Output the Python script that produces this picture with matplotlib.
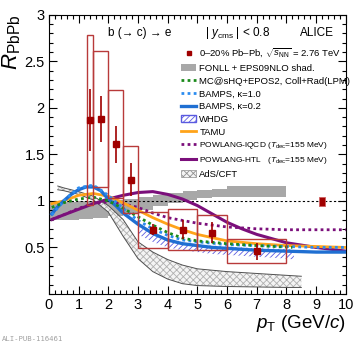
import numpy as np
import matplotlib
matplotlib.use('Agg')
import matplotlib.pyplot as plt
import matplotlib.ticker as mticker
from matplotlib.patches import Rectangle, Patch
from matplotlib.lines import Line2D

plt.rcParams['font.family'] = ['Liberation Sans', 'DejaVu Sans']
plt.rcParams['mathtext.fontset'] = 'custom'
plt.rcParams['mathtext.rm'] = 'Liberation Sans'
plt.rcParams['mathtext.it'] = 'Liberation Sans:italic'
plt.rcParams['hatch.linewidth'] = 0.6

# ── data ──
pt = [1.4, 1.75, 2.25, 2.75, 3.5, 4.5, 5.5, 7.0]
pt_lo = [1.3, 1.5, 2.0, 2.5, 3.0, 4.0, 5.0, 6.0]
pt_hi = [1.5, 2.0, 2.5, 3.0, 4.0, 5.0, 6.0, 8.0]
raa = [1.87, 1.88, 1.61, 1.23, 0.69, 0.69, 0.66, 0.46]
stat = [0.33, 0.25, 0.20, 0.18, 0.06, 0.10, 0.11, 0.09]
syst = [0.91, 0.73, 0.58, 0.36, 0.195, 0.22, 0.19, 0.13]
norm_x, norm_lo, norm_hi = 9.2, 0.945, 1.045

fonll_x = [0, 0.5, 1, 1.5, 2, 2.5, 3, 3.5, 4, 4.5, 5, 5.5, 6, 7, 8]
fonll_lo = [0.80, 0.80, 0.81, 0.82, 0.84, 0.87, 0.90, 0.94, 0.98, 1.01, 1.03, 1.04, 1.04, 1.04, 1.04]
fonll_hi = [0.99, 0.99, 1.00, 1.00, 1.01, 1.02, 1.04, 1.06, 1.09, 1.11, 1.12, 1.13, 1.16, 1.16, 1.16]

mcshq_x = [0.1, 0.5, 1, 1.5, 2, 2.5, 3, 3.5, 4, 4.5, 5, 6, 7, 8.2]
mcshq_y = [0.93, 0.98, 1.02, 1.04, 1.0, 0.92, 0.83, 0.74, 0.66, 0.60, 0.57, 0.54, 0.52, 0.50]

bamps1_x = [0.1, 0.5, 1, 1.5, 2, 2.5, 3, 3.5, 4, 4.5, 5, 6, 7, 8, 9, 10]
bamps1_y = [0.85, 1.0, 1.14, 1.17, 1.06, 0.92, 0.79, 0.70, 0.63, 0.58, 0.56, 0.53, 0.52, 0.51, 0.50, 0.50]

bamps02_x = [0.1, 0.25, 0.5, 0.75, 1, 1.25, 1.5, 1.75, 2, 2.25, 2.5, 3, 3.5, 4, 4.5, 5, 5.5, 6, 7, 8, 9, 10]
bamps02_y = [0.86, 0.92, 1.0, 1.07, 1.12, 1.15, 1.15, 1.11, 1.02, 0.95, 0.87, 0.75, 0.65, 0.58, 0.54, 0.52, 0.50, 0.49, 0.47, 0.46, 0.45, 0.45]

whdg_x = [3, 3.5, 4, 4.5, 5, 5.5, 6, 6.5, 7, 7.5, 8, 8.25]
whdg_hi = [0.72, 0.64, 0.58, 0.55, 0.53, 0.52, 0.51, 0.50, 0.49, 0.49, 0.48, 0.48]
whdg_lo = [0.64, 0.56, 0.50, 0.47, 0.45, 0.43, 0.42, 0.41, 0.40, 0.39, 0.38, 0.37]

tamu_x = [0.1, 0.5, 1, 1.5, 2, 2.5, 3, 3.5, 4, 4.5, 5, 6, 7, 8, 9, 10]
tamu_y = [0.97, 1.0, 1.06, 1.08, 1.05, 0.98, 0.90, 0.82, 0.75, 0.69, 0.64, 0.57, 0.54, 0.52, 0.51, 0.50]

lqcd_x = [0.1, 0.5, 1, 1.5, 2, 2.5, 3, 3.5, 4, 4.5, 5, 6, 7, 8, 9, 10]
lqcd_y = [0.80, 0.85, 0.92, 0.97, 0.99, 0.97, 0.93, 0.87, 0.82, 0.79, 0.76, 0.72, 0.70, 0.69, 0.69, 0.69]

htl_x = [0.1, 0.5, 1, 1.5, 2, 2.5, 3, 3.5, 4, 4.5, 5, 5.5, 6, 6.5, 7, 8, 9, 10]
htl_y = [0.80, 0.85, 0.91, 0.97, 1.02, 1.06, 1.09, 1.10, 1.07, 1.02, 0.95, 0.86, 0.77, 0.70, 0.64, 0.55, 0.50, 0.46]

ads_x = [0.3, 0.5, 1, 1.5, 2, 2.5, 3, 3.5, 4, 4.5, 5, 6, 7, 8, 8.5]
ads_hi = [1.16, 1.14, 1.10, 1.05, 0.95, 0.80, 0.56, 0.45, 0.37, 0.31, 0.27, 0.24, 0.22, 0.20, 0.19]
ads_lo = [1.12, 1.11, 1.07, 1.01, 0.88, 0.62, 0.38, 0.24, 0.16, 0.11, 0.09, 0.08, 0.075, 0.07, 0.07]

C_DATA = '#a00000'
C_SYS = '#b83a3a'
C_FONLL = '#a8a8a8'
C_GREEN = '#1a8a1a'
C_BLUE1 = '#2b8cf0'
C_BLUE2 = '#1f6fd2'
C_WHDG = '#5a5ae0'
C_TAMU = '#ffa31a'
C_PURP = '#7b0f7b'

fig = plt.figure(figsize=(3.54, 3.45), dpi=100)
ax = fig.add_axes([0.138, 0.148, 0.839, 0.809])

# FONLL
ax.fill_between(fonll_x, fonll_lo, fonll_hi, step='post', color=C_FONLL, lw=0, zorder=1)
ax.axhline(1.0, color='k', ls=(0, (2, 2)), lw=0.8, zorder=2)

# AdS/CFT
ax.fill_between(ads_x, ads_lo, ads_hi, facecolor='#f4f4f4', edgecolor='#b0b0b0',
                hatch='xxxxx', lw=0, zorder=2)
ax.plot(ads_x, ads_hi, color='#505050', lw=0.7, zorder=3)
ax.plot(ads_x, ads_lo, color='#505050', lw=0.7, zorder=3)

# WHDG
ax.fill_between(whdg_x, whdg_lo, whdg_hi, facecolor='none', edgecolor=C_WHDG,
                hatch='//////', lw=0, zorder=3)

ax.plot(lqcd_x, lqcd_y, color=C_PURP, lw=2.0, ls=(0, (1, 1.2)), zorder=4)
ax.plot(htl_x, htl_y, color=C_PURP, lw=2.2, zorder=4)
ax.plot(tamu_x, tamu_y, color=C_TAMU, lw=2.0, zorder=4)
ax.plot(bamps02_x, bamps02_y, color=C_BLUE2, lw=2.4, zorder=5)
ax.plot(bamps1_x, bamps1_y, color=C_BLUE1, lw=2.0, ls=(0, (1, 1.2)), zorder=5)
ax.plot(mcshq_x, mcshq_y, color=C_GREEN, lw=2.0, ls=(0, (1, 1.2)), zorder=5)

# data
for i in range(len(pt)):
    ax.add_patch(Rectangle((pt_lo[i], raa[i] - syst[i]), pt_hi[i] - pt_lo[i], 2 * syst[i],
                           facecolor='none', edgecolor=C_SYS, lw=1.0, zorder=6))
ax.errorbar(pt, raa, yerr=stat, fmt='s', color=C_DATA, ms=4, elinewidth=1.2,
            capsize=0, zorder=7)
ax.add_patch(Rectangle((norm_x - 0.1, norm_lo), 0.2, norm_hi - norm_lo,
                       facecolor=C_DATA, edgecolor='#d06060', lw=0.6, zorder=7))

ax.set_xlim(0, 10)
ax.set_ylim(0, 3)
ax.xaxis.set_major_locator(mticker.MultipleLocator(1))
ax.xaxis.set_minor_locator(mticker.MultipleLocator(0.2))
ax.set_yticks([0.5, 1, 1.5, 2, 2.5, 3])
ax.set_yticklabels(['0.5', '1', '1.5', '2', '2.5', '3'])
ax.yaxis.set_minor_locator(mticker.MultipleLocator(0.1))
ax.tick_params(which='both', direction='in', top=True, right=True, labelsize=10.5, width=0.8)
ax.tick_params(which='major', length=6, pad=3)
ax.tick_params(which='minor', length=3)
for s in ax.spines.values():
    s.set_linewidth(0.8)

ax.set_xlabel(r'$p_{\mathrm{T}}$ (GeV/$c$)', fontsize=13.5, loc='right', labelpad=1)
ax.set_ylabel(r'$R_{\mathrm{PbPb}}$', fontsize=16, loc='top', labelpad=1)

ax.text(0.20, 0.925, 'b (→ c) → e', transform=ax.transAxes, fontsize=8.5)
ax.text(0.525, 0.925, r'| $y_{\mathrm{cms}}$ | < 0.8', transform=ax.transAxes, fontsize=8.5)
ax.text(0.96, 0.925, 'ALICE', transform=ax.transAxes, fontsize=8.5, ha='right')

handles = [
    Line2D([], [], marker='s', color=C_DATA, ls='none', ms=3.5),
    Patch(facecolor=C_FONLL, edgecolor='none'),
    Line2D([], [], color=C_GREEN, lw=2.0, ls=(0, (1, 1.2))),
    Line2D([], [], color=C_BLUE1, lw=2.0, ls=(0, (1, 1.2))),
    Line2D([], [], color=C_BLUE2, lw=2.4),
    Patch(facecolor='none', edgecolor=C_WHDG, hatch='//////'),
    Line2D([], [], color=C_TAMU, lw=2.0),
    Line2D([], [], color=C_PURP, lw=2.0, ls=(0, (1, 1.2))),
    Line2D([], [], color=C_PURP, lw=2.2),
    Patch(facecolor='#f4f4f4', edgecolor='#909090', hatch='xxxxx', lw=0.5),
]
labels = [
    r'0–20% Pb–Pb, $\sqrt{s_{\mathrm{NN}}}$ = 2.76 TeV',
    'FONLL + EPS09NLO shad.',
    'MC@sHQ+EPOS2, Coll+Rad(LPM)',
    'BAMPS, κ=1.0',
    'BAMPS, κ=0.2',
    'WHDG',
    'TAMU',
    r'POWLANG-lQCD ($T_{\mathrm{dec}}$=155 MeV)',
    r'POWLANG-HTL   ($T_{\mathrm{dec}}$=155 MeV)',
    'AdS/CFT',
]
leg = ax.legend(handles, labels, loc='upper left', bbox_to_anchor=(0.445, 0.885), fontsize=6.8,
                frameon=False, handlelength=1.6, handletextpad=0.35, labelspacing=0.4,
                borderaxespad=0, borderpad=0)
for t in leg.get_texts()[7:9]:
    t.set_fontsize(6.0)

fig.text(0.005, 0.012, 'ALI-PUB-116461', fontsize=5.2, color='#a0a0a0', family='DejaVu Sans Mono')

fig.savefig('out.png', dpi=100)
